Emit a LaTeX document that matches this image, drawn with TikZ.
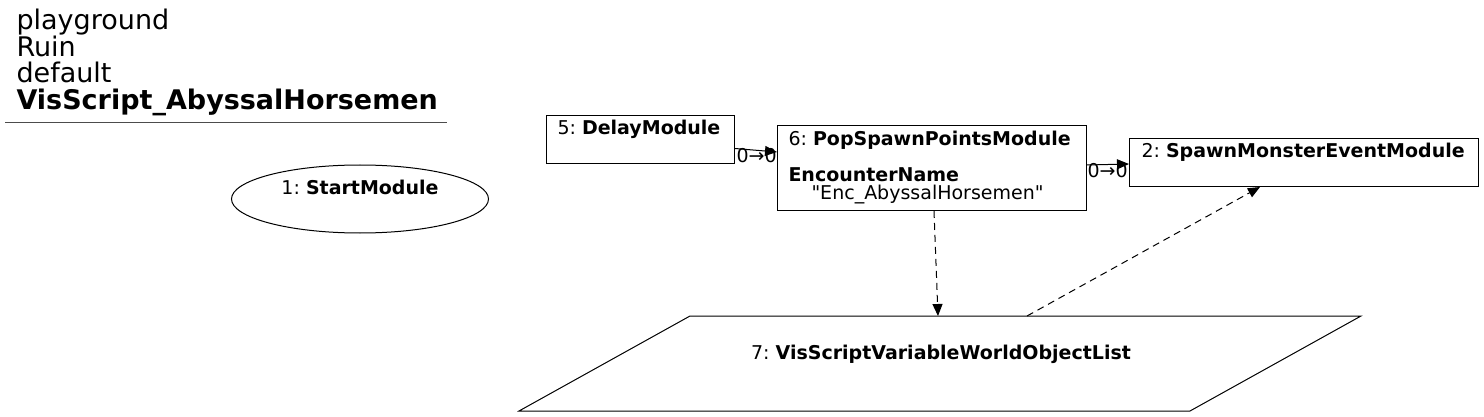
\documentclass[tikz,border=0pt]{standalone}
\usepackage{fontspec}
\setmainfont{DejaVu Sans}[Ligatures=TeXOff]
\usetikzlibrary{arrows.meta,shapes.geometric}
\frenchspacing

\begin{document}
\begin{tikzpicture}[x=1pt,y=-1pt,line width=1pt,
    title/.style={inner sep=0pt,font=\fontsize{27}{31}\selectfont},
    txt/.style={inner sep=0pt,font=\fontsize{19}{23}\selectfont},
    box/.style={draw,rectangle,inner sep=0pt,anchor=north west},
    flow/.style={-{Triangle[length=12pt,width=10pt]}},
    data/.style={dash pattern=on 7pt off 5pt,-{Triangle[length=12pt,width=10pt]}}]
  \useasboundingbox (0,0) rectangle (1484,417);
  % title
  \node[title,anchor=base west] (tl1) at (16,29.5) {playground};
  \node[title,anchor=base west] (tl2) at (16,56.3) {Ruin};
  \node[title,anchor=base west] (tl3) at (16,83) {default};
  \node[title,anchor=base west] (tl4) at (16,110) {\textbf{VisScript\_AbyssalHorsemen}};
  \draw[black!70] (5,123) -- (447,123);
  % modules
  \node[draw,ellipse,inner sep=0pt,minimum width=257pt,minimum height=68pt] (start) at (360,199) {};
  \node[txt,anchor=base] (tstart) at (360,195) {1: \textbf{StartModule}};
  \node[box,minimum width=188pt,minimum height=48pt] (delay) at (546,115) {};
  \node[txt,anchor=base west] (tdelay) at (557,135) {5: \textbf{DelayModule}};
  \node[box,minimum width=309pt,minimum height=85pt] (pop) at (777,125) {};
  \node[txt,anchor=base west] (tpop) at (788,146) {6: \textbf{PopSpawnPointsModule}};
  \node[txt,anchor=base west] (tenc) at (788,182) {\textbf{EncounterName}};
  \node[txt,anchor=base west] (tval) at (811,200) {"Enc\_AbyssalHorsemen"};
  \node[box,minimum width=349pt,minimum height=48pt] (spawn) at (1129,138) {};
  \node[txt,anchor=base west] (tspawn) at (1141,158) {2: \textbf{SpawnMonsterEventModule}};
  % variable
  \draw (519,411) -- (690,316) -- (1361,316) -- (1190,411) -- cycle;
  \coordinate (vin) at (938,316);
  \coordinate (vout) at (1027,316);
  \node[txt,anchor=base] (var) at (941,359) {7: \textbf{VisScriptVariableWorldObjectList}};
  % links
  \draw[flow] ([yshift=-9pt]delay.east) -- ([yshift=-27pt]pop.north west);
  \node[txt,anchor=base west] (l56) at (736,163) {0→0};
  \draw[flow] ([yshift=-40pt]pop.north east) -- ([yshift=-26pt]spawn.north west);
  \node[txt,anchor=base west] (l62) at (1087,178) {0→0};
  \draw[data] ([xshift=2pt]pop.south) -- (vin);
  \draw[data] (vout) -- ([xshift=-44pt]spawn.south);
\end{tikzpicture}
\end{document}
